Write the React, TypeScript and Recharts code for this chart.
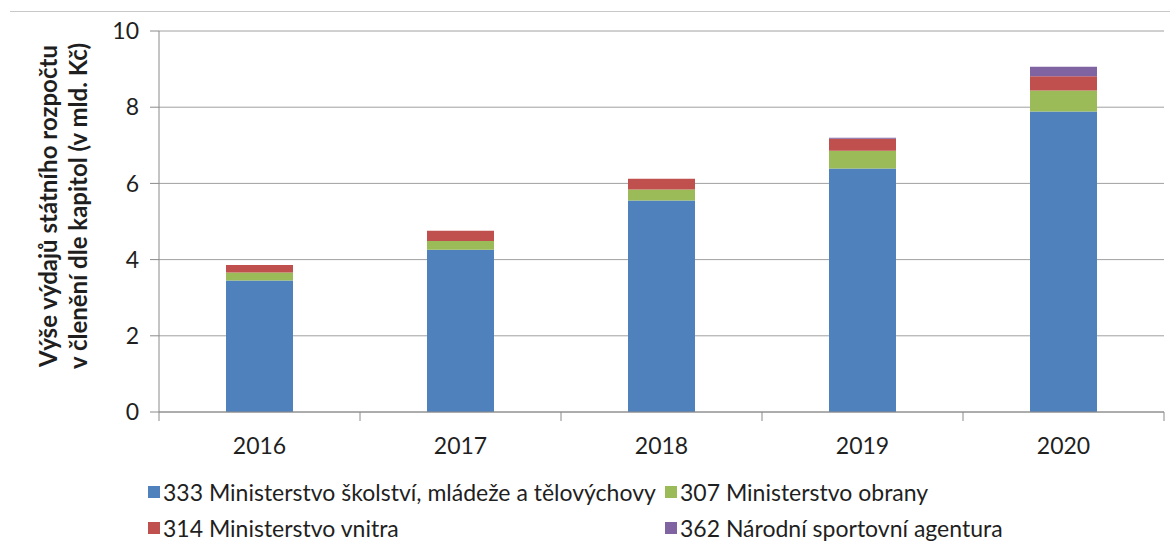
import React from 'react';
import { BarChart, Bar, XAxis, YAxis, CartesianGrid, Legend } from 'recharts';

const years = ['2016', '2017', '2018', '2019', '2020'];
const msmt = [3.45, 4.26, 5.55, 6.39, 7.89];
const mo = [0.21, 0.23, 0.29, 0.47, 0.55];
const mv = [0.2, 0.27, 0.28, 0.31, 0.37];
const nsa = [0, 0, 0, 0.03, 0.25];
const yTicks = [0, 2, 4, 6, 8, 10];

const seriesNames = [
  '333 Ministerstvo školství, mládeže a tělovýchovy',
  '307 Ministerstvo obrany',
  '314 Ministerstvo vnitra',
  '362 Národní sportovní agentura',
];
const seriesKeys = ['msmt', 'mo', 'mv', 'nsa'];
const seriesColors = ['#4F81BD', '#9BBB59', '#C0504D', '#8064A2'];
const seriesValues = [msmt, mo, mv, nsa];

const data = years.map((y, i) => {
  const row: Record<string, string | number> = { year: y };
  seriesKeys.forEach((k, s) => {
    row[k] = seriesValues[s][i];
  });
  return row;
});

const W = 1170;
const H = 542;
const M = { top: 31, right: 6, bottom: 90, left: 0 };
const Y_W = 159;
const BAND = (W - M.left - Y_W - M.right) / years.length;
const FONT = 'Lato, "Noto Sans", sans-serif';
const TXT = '#1f1f1f';
const AXIS = '#8a8a8a';

const XTick = (props: any) => {
  const { x, y, payload, index } = props;
  return (
    <g>
      <line x1={x - BAND / 2} x2={x - BAND / 2} y1={y} y2={y + 9} stroke={AXIS} />
      {index === years.length - 1 && (
        <line x1={x + BAND / 2} x2={x + BAND / 2} y1={y} y2={y + 9} stroke={AXIS} />
      )}
      <text x={x} y={y + 42} textAnchor="middle" fontSize={23} fill={TXT} fontFamily={FONT}>
        {payload.value}
      </text>
    </g>
  );
};

const YLabel = () => {
  const cy = 206;
  return (
    <text
      transform={`translate(0, ${cy}) rotate(-90)`}
      textAnchor="middle"
      fontSize={24}
      fontWeight={700}
      fill={TXT}
      fontFamily={FONT}
    >
      <tspan x={0} y={57}>Výše výdajů státního rozpočtu</tspan>
      <tspan x={0} y={87}>v členění dle kapitol (v mld. Kč)</tspan>
    </text>
  );
};

const LegendContent = (props: any) => {
  const payload = props.payload || [];
  return (
    <div style={{ position: 'relative', width: W, height: 70 }}>
      {payload.map((p: any) => {
        const i = seriesNames.indexOf(p.value);
        return (
          <div
            key={p.value}
            style={{
              position: 'absolute',
              left: i % 2 === 0 ? 148 : 665,
              top: Math.floor(i / 2) * 36,
              display: 'flex',
              alignItems: 'center',
              whiteSpace: 'nowrap',
              fontFamily: FONT,
              fontSize: 23,
              color: TXT,
              lineHeight: '24px',
            }}
          >
            <span style={{ display: 'inline-block', width: 12, height: 12, background: p.color, marginRight: 3 }} />
            {p.value}
          </div>
        );
      })}
    </div>
  );
};

export default function App() {
  return (
    <div style={{ position: 'absolute', left: 0, top: 0, width: W, height: H, background: '#fff' }}>
      <div style={{ position: 'absolute', left: 10, top: 11, width: W - 10, height: 0, borderTop: '1px solid #c8c8c8' }} />
      <BarChart width={W} height={H} data={data} margin={M} barSize={67} style={{ fontFamily: FONT }}>
        <CartesianGrid vertical={false} stroke="#a0a0a0" />
        <XAxis
          dataKey="year"
          tickLine={false}
          tickSize={0}
          tickMargin={0}
          axisLine={{ stroke: AXIS }}
          tick={<XTick />}
          height={40}
          interval={0}
        />
        <YAxis
          domain={[0, 10]}
          ticks={yTicks}
          width={Y_W}
          tickSize={9}
          tickMargin={11}
          tickLine={{ stroke: AXIS }}
          axisLine={{ stroke: AXIS }}
          tick={{ fontSize: 23, fill: TXT, fontFamily: FONT }}
          label={<YLabel />}
        />
        {seriesKeys.map((k, s) => (
          <Bar key={k} dataKey={k} name={seriesNames[s]} stackId="a" fill={seriesColors[s]} isAnimationActive={false} />
        ))}
        <Legend
          layout="vertical"
          align="center"
          verticalAlign="middle"
          content={<LegendContent />}
          wrapperStyle={{ position: 'absolute', left: 0, top: 480, width: W }}
        />
      </BarChart>
    </div>
  );
}
